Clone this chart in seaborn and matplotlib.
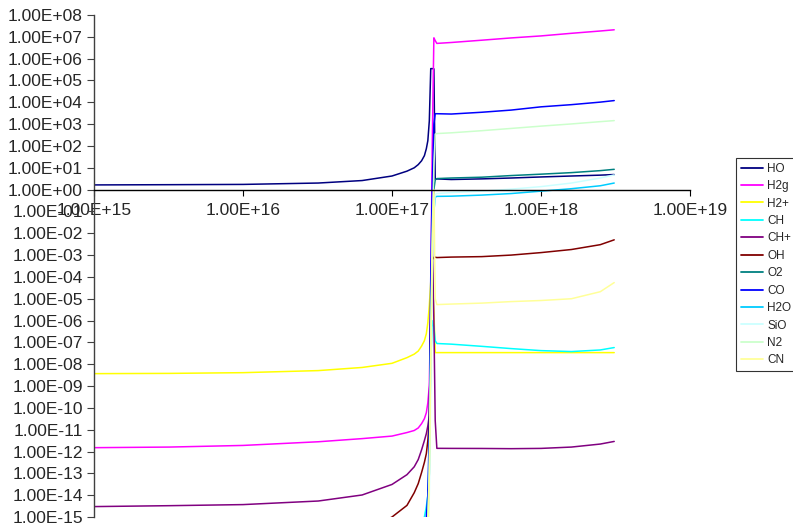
import matplotlib
matplotlib.use("Agg")
import numpy as np
import pandas as pd
import matplotlib.pyplot as plt
import seaborn as sns
from matplotlib.ticker import FixedLocator, FuncFormatter, NullLocator

# Radial grid (cm)
radius = [1.0e15, 3.2e15, 1.0e16, 3.2e16, 6.3e16, 1.0e17, 1.26e17, 1.41e17,
          1.50e17, 1.58e17, 1.65e17, 1.70e17, 1.74e17, 1.78e17, 1.82e17,
          1.86e17, 1.91e17, 1.95e17, 2.0e17, 2.5e17, 4.0e17, 6.3e17, 1.0e18,
          1.6e18, 2.5e18, 3.1e18]

# Abundances per species along the grid
HO = [1.64, 1.68, 1.73, 2.0, 2.6, 4.2, 7.0, 10, 14, 21, 36, 75, 175, 1.4e3,
      3.5e5, 3.5e5, 3.4e5, 2.9, 3.1, 2.9, 3.1, 3.4, 3.8, 4.2, 4.6, 4.9]
H2g = [1.5e-12, 1.6e-12, 1.9e-12, 2.8e-12, 3.9e-12, 5.1e-12, 7.4e-12, 9.2e-12,
       1.2e-11, 1.9e-11, 3.2e-11, 6.0e-11, 1.7e-10, 1.05e-9, 8.0e-6, 60,
       9.0e6, 6.7e6, 5.0e6, 5.5e6, 7.0e6, 8.9e6, 1.1e7, 1.45e7, 1.85e7, 2.1e7]
H2p = [3.7e-9, 3.8e-9, 4.1e-9, 5.1e-9, 7.1e-9, 1.1e-8, 2.0e-8, 2.9e-8, 4.0e-8,
       6.8e-8, 1.2e-7, 2.5e-7, 8.0e-7, 4.9e-6, 6.0e-5, 1.0e-4, 3.0e-6, 3.4e-8,
       3.4e-8, 3.4e-8, 3.4e-8, 3.4e-8, 3.4e-8, 3.4e-8, 3.4e-8, 3.4e-8]
CH = [1e-18, 1e-18, 1e-18, 2e-18, 5e-18, 1.5e-17, 3e-17, 1e-16, 2e-16, 5e-16,
      1e-15, 3e-15, 1e-14, 1e-12, 1e-8, 1e-6, 5e-7, 1.2e-7, 8.9e-8, 8.3e-8,
      6.6e-8, 5.2e-8, 4.2e-8, 3.8e-8, 4.5e-8, 5.8e-8]
CHp = [3.0e-15, 3.3e-15, 3.7e-15, 5.4e-15, 1.02e-14, 3.1e-14, 8.7e-14, 2.0e-13,
       4.3e-13, 1.2e-12, 3.2e-12, 6.6e-12, 1.5e-11, 4.5e-11, 1.0e-6, 1.0e-2,
       1.0e-6, 2.6e-11, 1.4e-12, 1.39e-12, 1.38e-12, 1.35e-12, 1.39e-12,
       1.6e-12, 2.2e-12, 2.9e-12]
OH = [1e-17, 1.2e-17, 2e-17, 5e-17, 2e-16, 1.0e-15, 3.4e-15, 1.3e-14, 3.4e-14,
      1.1e-13, 3.2e-13, 8e-13, 3.2e-12, 2.6e-11, 1.0e-5, 6.0e-4, 8.0e-4,
      8.0e-4, 7.7e-4, 8.1e-4, 8.5e-4, 1.0e-3, 1.3e-3, 1.8e-3, 3.0e-3, 5.0e-3]
O2 = [1e-20, 1e-20, 1e-20, 2e-20, 5e-20, 2e-19, 5e-19, 1e-18, 3e-18, 1e-17,
      3e-17, 1e-16, 1e-15, 1e-12, 1e-6, 1e-2, 1.0, 2.8, 3.2, 3.4, 3.7, 4.4,
      5.1, 6.0, 7.4, 8.5]
CO = [1e-19, 1e-19, 1e-19, 2e-19, 5e-19, 2e-18, 5e-18, 1e-17, 3e-17, 1e-16,
      3e-16, 1e-15, 1e-14, 1e-11, 1e-4, 1.0, 1.0e3, 3.0e3, 3.0e3, 2.9e3,
      3.5e3, 4.4e3, 6.2e3, 7.8e3, 1.02e4, 1.2e4]
H2O = [1e-20, 1e-20, 1e-20, 1e-20, 1e-20, 1e-19, 1e-19, 1e-18, 3e-18, 1e-17,
       3e-17, 1e-16, 1e-15, 1e-13, 1e-7, 1e-3, 0.1, 0.45, 0.49, 0.50, 0.56,
       0.66, 0.85, 1.1, 1.5, 2.0]
SiO = [1e-21, 1e-21, 1e-21, 1e-21, 1e-21, 1e-20, 1e-20, 1e-19, 3e-19, 1e-18,
       3e-18, 1e-17, 1e-16, 1e-14, 1e-9, 1e-4, 0.1, 0.6, 0.66, 0.73, 0.85,
       1.05, 1.37, 2.0, 3.4, 4.7]
N2 = [1e-20, 1e-20, 1e-20, 1e-20, 1e-20, 1e-19, 1e-19, 1e-18, 3e-18, 1e-17,
      3e-17, 1e-16, 1e-15, 1e-13, 1e-7, 1e-2, 10, 350, 370, 400, 500, 635,
      810, 1.02e3, 1.3e3, 1.45e3]
CN = [1e-21, 1e-21, 1e-21, 1e-21, 1e-21, 1e-20, 1e-20, 1e-19, 3e-19, 1e-18,
      3e-18, 1e-17, 1e-16, 1e-13, 1e-8, 1e-3, 1.0, 1e-5, 5.4e-6, 5.7e-6,
      6.3e-6, 7.4e-6, 8.3e-6, 1.0e-5, 2.1e-5, 5.5e-5]

species = ["HO", "H2g", "H2+", "CH", "CH+", "OH", "O2", "CO", "H2O", "SiO", "N2", "CN"]
series = [HO, H2g, H2p, CH, CHp, OH, O2, CO, H2O, SiO, N2, CN]
colors = ["#000080", "#FF00FF", "#FFFF00", "#00FFFF", "#800080", "#800000",
          "#008080", "#0000FF", "#00CCFF", "#CCFFFF", "#CCFFCC", "#FFFF99"]

df = pd.concat(
    [pd.DataFrame({"radius": radius, "abundance": vals, "species": name})
     for name, vals in zip(species, series)],
    ignore_index=True,
)

sns.set_style("white")
plt.rcParams["font.family"] = ["Liberation Sans", "DejaVu Sans"]

fig = plt.figure(figsize=(7.93, 5.25), dpi=100)
ax = fig.add_axes([94 / 793, 1 - 517 / 525, (690 - 94) / 793, (517 - 15) / 525])
ax.set_xscale("log")
ax.set_yscale("log")

sns.lineplot(data=df, x="radius", y="abundance", hue="species",
             hue_order=species, palette=dict(zip(species, colors)),
             estimator=None, sort=False, lw=1.1, ax=ax)

ax.set_xlim(1e15, 1e19)
ax.set_ylim(1e-15, 1e8)
ax.set_xlabel("")
ax.set_ylabel("")

# Axes: the horizontal axis crosses at 1
ax.spines["top"].set_visible(False)
ax.spines["right"].set_visible(False)
ax.spines["bottom"].set_position(("data", 1.0))
ax.spines["bottom"].set_color("black")
ax.spines["bottom"].set_linewidth(1.0)
ax.spines["left"].set_color("#404040")
ax.spines["left"].set_linewidth(1.0)

fmt = FuncFormatter(lambda v, p: f"{v:.2E}")
ax.xaxis.set_major_locator(FixedLocator([10.0 ** k for k in range(15, 20)]))
ax.yaxis.set_major_locator(FixedLocator([10.0 ** k for k in range(-15, 9)]))
ax.xaxis.set_minor_locator(NullLocator())
ax.yaxis.set_minor_locator(NullLocator())
ax.xaxis.set_major_formatter(fmt)
ax.yaxis.set_major_formatter(fmt)
ax.tick_params(axis="y", direction="out", length=5, width=0.8, pad=3,
               labelsize=12.5, left=True, color="#404040")
ax.tick_params(axis="x", direction="out", length=4, width=0.8, pad=6,
               labelsize=12.5, bottom=True, color="black")

handles, labels = ax.get_legend_handles_labels()
leg = ax.legend(handles, labels, loc="upper left",
                bbox_to_anchor=(736 / 793, 1 - 158 / 525),
                bbox_transform=fig.transFigure, frameon=True, fancybox=False,
                edgecolor="black", fontsize=8.5, handlelength=1.9,
                handletextpad=0.35, labelspacing=0.46, borderpad=0.4,
                borderaxespad=0)
leg.get_frame().set_linewidth(0.8)
for line in leg.get_lines():
    line.set_linewidth(1.3)

fig.savefig("out.png", dpi=100)
